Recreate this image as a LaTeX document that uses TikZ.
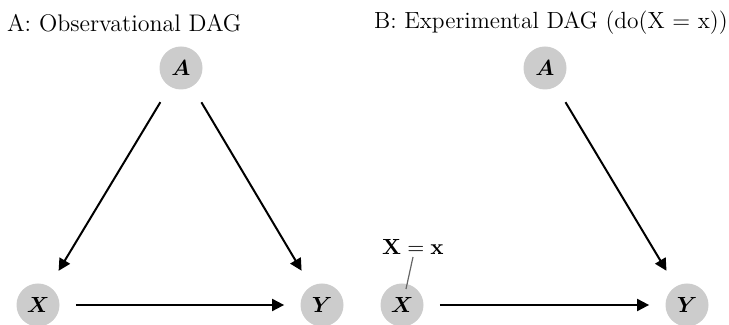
\documentclass[tikz,border=0pt]{standalone}
\usepackage{amsmath,bm}
\usetikzlibrary{arrows.meta}
\begin{document}
\begin{tikzpicture}[x=0.5pt,y=-0.5pt,
  var/.style={circle,fill=black!20,minimum size=21.5pt,inner sep=0pt,font=\fontsize{10.5}{12}\selectfont},
  edge/.style={-{Triangle[length=6pt,width=6pt]},line width=1pt},
  ttl/.style={anchor=west,font=\fontsize{12}{14}\selectfont}]
\useasboundingbox (0,0) rectangle (729,325);
\node[ttl] (ta) at (0,23) {A: Observational DAG};
\node[ttl,font=\fontsize{11.7}{14}\selectfont] (tb) at (367,23) {B: Experimental DAG (do(X = x))};
% panel A
\node[var] (A1) at (181,68) {$\bm{A}$};
\node[var] (X1) at (38,305) {$\bm{X}$};
\node[var] (Y1) at (322,305) {$\bm{Y}$};
\draw[edge,shorten <=9pt,shorten >=9pt] (A1) -- (X1);
\draw[edge,shorten <=9pt,shorten >=9pt] (A1) -- (Y1);
\draw[edge,shorten <=8pt,shorten >=8pt] (X1) -- (Y1);
% panel B
\node[var] (A2) at (545,68) {$\bm{A}$};
\node[var] (X2) at (402,305) {$\bm{X}$};
\node[var] (Y2) at (687,305) {$\bm{Y}$};
\draw[edge,shorten <=9pt,shorten >=9pt] (A2) -- (Y2);
\draw[edge,shorten <=8pt,shorten >=8pt] (X2) -- (Y2);
\node[font=\fontsize{10.7}{12}\selectfont] (lab) at (413,247) {$\mathbf{X=x}$};
\draw[black!60,line width=0.6pt] (413,257) -- (406,289);
\end{tikzpicture}
\end{document}
